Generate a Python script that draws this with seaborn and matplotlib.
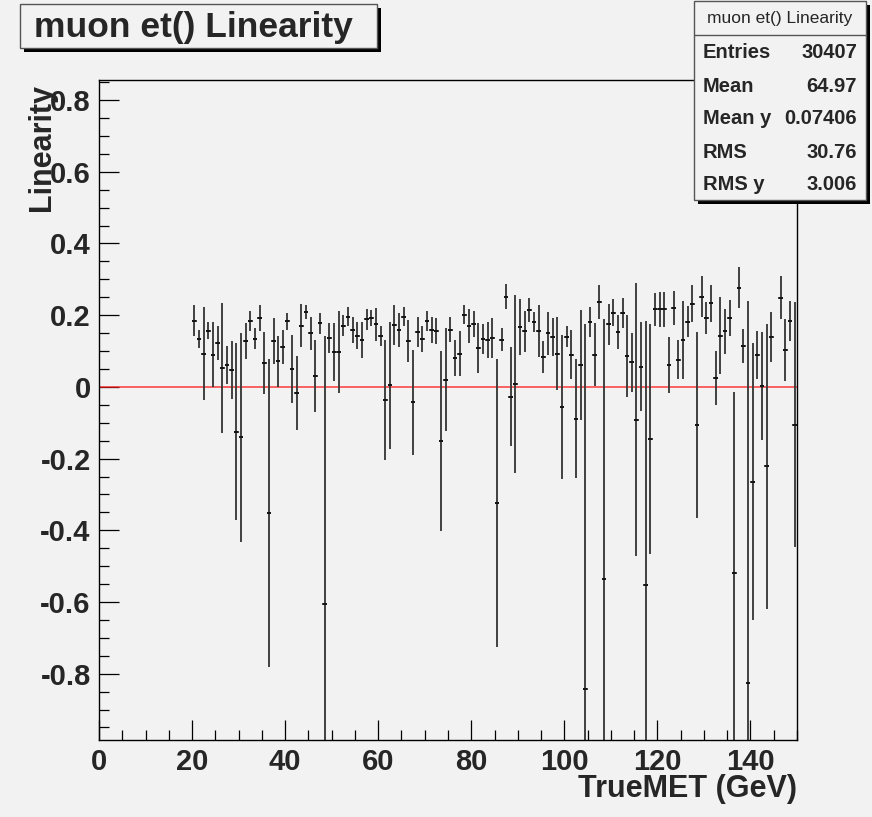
import numpy as np
import pandas as pd
import matplotlib
matplotlib.use("Agg")
import matplotlib.pyplot as plt
from matplotlib.patches import Rectangle
from matplotlib.ticker import MultipleLocator, FixedLocator
import seaborn as sns

# Profile: 150 bins of 1 GeV over TrueMET in [0, 150); filled bins start at 20 GeV
n_bins = 150
x_lo, x_hi = 0.0, 150.0
first_bin = 20

lin_mean = [
    0.185, 0.134, 0.093, 0.157, 0.090, 0.123, 0.053, 0.061, 0.047, -0.125,
    -0.141, 0.128, 0.183, 0.134, 0.192, 0.067, -0.352, 0.129, 0.071, 0.111,
    0.183, 0.050, -0.017, 0.171, 0.209, 0.149, 0.030, 0.177, -0.606, 0.136,
    0.097, 0.097, 0.171, 0.196, 0.158, 0.143, 0.130, 0.188, 0.192, 0.174,
    0.143, -0.037, 0.004, 0.173, 0.159, 0.196, 0.128, -0.043, 0.153, 0.134,
    0.183, 0.159, 0.155, -0.150, 0.020, 0.159, 0.081, 0.093, 0.201, 0.169,
    0.176, 0.109, 0.134, 0.131, 0.136, -0.324, 0.132, 0.252, -0.027, 0.009,
    0.167, 0.155, 0.215, 0.181, 0.155, 0.083, 0.149, 0.139, 0.093, -0.055,
    0.140, 0.090, -0.089, 0.061, -0.844, 0.181, 0.090, 0.236, -0.535, 0.174,
    0.207, 0.153, 0.207, 0.086, 0.069, -0.091, 0.056, -0.554, -0.145, 0.216,
    0.216, 0.216, 0.061, 0.220, 0.076, 0.130, 0.182, 0.232, -0.107, 0.252,
    0.192, 0.233, 0.025, 0.143, 0.155, 0.192, -0.520, 0.277, 0.114, -0.827,
    -0.264, 0.089, 0.002, -0.222, 0.139, np.nan, 0.249, 0.102, 0.183, -0.105,
]
lin_err = [
    0.044, 0.026, 0.130, 0.023, 0.091, 0.047, 0.182, 0.054, 0.082, 0.247,
    0.291, 0.050, 0.028, 0.029, 0.036, 0.086, 0.429, 0.064, 0.070, 0.047,
    0.024, 0.094, 0.104, 0.061, 0.019, 0.047, 0.100, 0.029, 0.748, 0.041,
    0.081, 0.114, 0.030, 0.026, 0.037, 0.038, 0.050, 0.029, 0.022, 0.047,
    0.028, 0.167, 0.176, 0.055, 0.047, 0.026, 0.059, 0.146, 0.042, 0.037,
    0.028, 0.037, 0.036, 0.251, 0.144, 0.035, 0.050, 0.064, 0.027, 0.048,
    0.036, 0.070, 0.041, 0.050, 0.056, 0.402, 0.033, 0.036, 0.139, 0.248,
    0.079, 0.058, 0.034, 0.029, 0.073, 0.044, 0.061, 0.054, 0.101, 0.201,
    0.029, 0.068, 0.166, 0.153, 1.020, 0.043, 0.088, 0.047, 0.725, 0.058,
    0.038, 0.047, 0.042, 0.114, 0.082, 0.380, 0.124, 0.737, 0.320, 0.045,
    0.050, 0.049, 0.079, 0.047, 0.054, 0.109, 0.043, 0.052, 0.259, 0.056,
    0.045, 0.052, 0.076, 0.108, 0.062, 0.050, 0.505, 0.056, 0.047, 1.066,
    0.386, 0.066, 0.150, 0.398, 0.070, np.nan, 0.060, 0.086, 0.056, 0.343,
]

title_text = "muon et() Linearity"
stat_names = ["Entries", "Mean", "Mean y", "RMS", "RMS y"]
stat_values = ["30407", "64.97", "0.07406", "30.76", "3.006"]
x_label = "TrueMET (GeV)"
y_label = "Linearity"
x_major = [0, 20, 40, 60, 80, 100, 120, 140]
y_major = [-0.8, -0.6, -0.4, -0.2, 0.0, 0.2, 0.4, 0.6, 0.8]
y_tick_labels = ["-0.8", "-0.6", "-0.4", "-0.2", "0", "0.2", "0.4", "0.6", "0.8"]

edges = np.linspace(x_lo, x_hi, n_bins + 1)
centers = 0.5 * (edges[:-1] + edges[1:])
df = pd.DataFrame({
    "TrueMET": centers[first_bin:first_bin + len(lin_mean)],
    "Linearity": lin_mean,
    "err": lin_err,
}).dropna()

sns.set_theme(style="ticks")
bg = "#f2f2f2"
plt.rcParams["font.family"] = ["Liberation Sans", "DejaVu Sans"]
plt.rcParams["font.weight"] = "bold"

W, H = 872, 817
fig = plt.figure(figsize=(W / 100, H / 100), dpi=100, facecolor=bg)


def fx(px):
    return px / W


def fy(py):
    return 1 - py / H


ax_l, ax_r, ax_t, ax_b = 99, 797, 80, 740
ax = fig.add_axes([fx(ax_l), fy(ax_b), fx(ax_r - ax_l), (ax_b - ax_t) / H])
ax.set_facecolor(bg)

# zero reference line
ax.axhline(0.0, color="#ff1a1a", lw=1.1, alpha=0.85, zorder=1)

# error bars: vertical = error on the mean, horizontal = bin half-width
ax.errorbar(df["TrueMET"], df["Linearity"], yerr=df["err"], xerr=0.5,
            fmt="none", ecolor="#3a3a3a", elinewidth=1.35, capsize=0, zorder=2)
sns.scatterplot(data=df, x="TrueMET", y="Linearity", ax=ax, marker="_",
                s=12, color="#111111", linewidth=1.3, zorder=3, legend=False)

ax.set_xlim(x_lo, x_hi)
ax.set_ylim(-0.985, 0.856)

ax.xaxis.set_major_locator(FixedLocator(x_major))
ax.xaxis.set_minor_locator(MultipleLocator(5))
ax.yaxis.set_major_locator(FixedLocator(y_major))
ax.set_yticklabels(y_tick_labels)
ax.yaxis.set_minor_locator(MultipleLocator(0.05))
ax.tick_params(which="both", direction="in", top=False, right=False,
               color="black", width=0.9, labelsize=21, pad=6)
ax.tick_params(which="major", length=14.5)
ax.tick_params(which="minor", length=7.2)
for lab in ax.get_xticklabels() + ax.get_yticklabels():
    lab.set_fontweight("bold")
for sp in ax.spines.values():
    sp.set_color("black")
    sp.set_linewidth(1.0)
ax.set_xlabel("")
ax.set_ylabel("")

# axis titles
fig.text(fx(797), fy(789), x_label, ha="right", va="center",
         fontsize=22, fontweight="bold")
fig.text(fx(50), fy(84), y_label, rotation=90, rotation_mode="anchor",
         ha="right", va="baseline", fontsize=22, fontweight="bold")


def shadow_box(x0, y0, x1, y1, off=4):
    fig.add_artist(Rectangle((fx(x0 + off), fy(y1 + off)),
                             fx(x1 - x0), (y1 - y0) / H,
                             transform=fig.transFigure, facecolor="black",
                             edgecolor="none", zorder=5))
    fig.add_artist(Rectangle((fx(x0), fy(y1)), fx(x1 - x0), (y1 - y0) / H,
                             transform=fig.transFigure, facecolor=bg,
                             edgecolor="#555555", lw=1.0, zorder=6))


# title box
shadow_box(20, 4, 377, 48)
fig.text(fx(34), fy(28), title_text, ha="left", va="center",
         fontsize=25.5, fontweight="bold", zorder=7)

# statistics box
shadow_box(694, 1, 866, 200)
fig.add_artist(plt.Line2D([fx(694), fx(866)], [fy(35), fy(35)],
                          transform=fig.transFigure, color="#555555",
                          lw=1.0, zorder=7))
fig.text(fx(780), fy(18), title_text, ha="center", va="center",
         fontsize=12.5, fontweight="normal", zorder=7)
row_y = [53, 87, 119, 152, 184]
for name, val, yy in zip(stat_names, stat_values, row_y):
    fig.text(fx(703), fy(yy), name, ha="left", va="center",
             fontsize=14.5, fontweight="bold", zorder=7)
    fig.text(fx(857), fy(yy), val, ha="right", va="center",
             fontsize=14.5, fontweight="bold", zorder=7)

fig.savefig("out.png", dpi=100, facecolor=bg)
